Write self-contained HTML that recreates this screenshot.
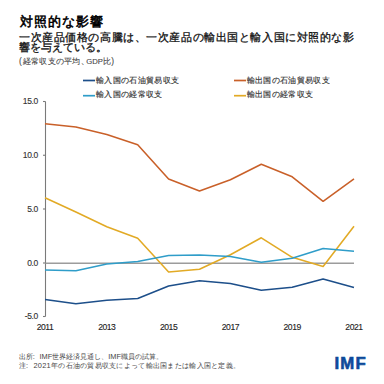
<!DOCTYPE html>
<html><head><meta charset="utf-8"><style>
*{margin:0;padding:0;box-sizing:border-box}
html,body{width:384px;height:384px;background:#fff;overflow:hidden}
body{position:relative;font-family:"Liberation Sans", sans-serif;color:#000}
.a{position:absolute;white-space:nowrap}
#t{left:19.8px;top:15.2px;font-size:12.5px;font-weight:normal;line-height:15px;letter-spacing:1.1px;-webkit-text-stroke:0.55px #000}
.s{left:19px;font-size:11px;line-height:12px;letter-spacing:0.57px;color:#111;-webkit-text-stroke:0.3px #111}
#n{left:19px;top:56px;font-size:8.4px;line-height:10px;color:#444;letter-spacing:0.3px;-webkit-text-stroke:0.1px #444}
.lg{font-size:7.5px;line-height:9px;color:#333;letter-spacing:0.35px;-webkit-text-stroke:0.15px #333}
.yl{font-size:8.5px;line-height:10px;color:#333;letter-spacing:-0.35px;-webkit-text-stroke:0.12px #333;text-align:right;width:30px}
.xl{font-size:8.6px;line-height:10px;color:#222;letter-spacing:-0.45px;-webkit-text-stroke:0.12px #222;width:30px;text-align:center}
.ft{font-size:7.4px;line-height:9px;color:#444;word-spacing:2.75px}
#imf{left:334.5px;top:354px;font-size:16.8px;line-height:19px;font-weight:bold;color:#0d4a9a;letter-spacing:1.2px;-webkit-text-stroke:0.6px #0d4a9a}
</style></head><body>
<div class="a" id="t">対照的な影響</div>
<div class="a s" style="top:31px">一次産品価格の高騰は、一次産品の輸出国と輸入国に対照的な影</div>
<div class="a s" style="top:41px;letter-spacing:0">響を与えている。</div>
<div class="a" id="n">(<span style="margin-left:0.6px">経常収支の平均</span><span style="letter-spacing:-2.6px">、</span><span style="font-size:7.7px;letter-spacing:0">GDP</span>比)</div>
<div class="a lg" style="left:96px;top:75.7px">輸入国の石油貿易収支</div>
<div class="a lg" style="left:96px;top:90.3px">輸入国の経常収支</div>
<div class="a lg" style="left:246.5px;top:75.7px">輸出国の石油貿易収支</div>
<div class="a lg" style="left:246.5px;top:90.3px">輸出国の経常収支</div>
<div class="a yl" style="left:8px;top:96.4px">15.0</div>
<div class="a yl" style="left:8px;top:150.4px">10.0</div>
<div class="a yl" style="left:8px;top:204.4px">5.0</div>
<div class="a yl" style="left:8px;top:257.9px">0.0</div>
<div class="a yl" style="left:8px;top:311.4px">-5.0</div>
<div class="a xl" style="left:30.0px;top:322px">2011</div>
<div class="a xl" style="left:91.8px;top:322px">2013</div>
<div class="a xl" style="left:153.6px;top:322px">2015</div>
<div class="a xl" style="left:215.4px;top:322px">2017</div>
<div class="a xl" style="left:277.2px;top:322px">2019</div>
<div class="a xl" style="left:339.0px;top:322px">2021</div>
<svg class="a" style="left:0;top:0" width="384" height="384">
<line x1="83" y1="80.5" x2="95" y2="80.5" stroke="#1d4f8a" stroke-width="1.7"/>
<line x1="83" y1="95.7" x2="95" y2="95.7" stroke="#2f9dc9" stroke-width="1.7"/>
<line x1="234" y1="80.5" x2="246" y2="80.5" stroke="#c96029" stroke-width="1.7"/>
<line x1="234" y1="95.7" x2="246" y2="95.7" stroke="#e2aa25" stroke-width="1.7"/>
<line x1="45.5" y1="101.5" x2="45.5" y2="316.5" stroke="#7a7a7a" stroke-width="1.1"/>
<line x1="43" y1="101.5" x2="45.5" y2="101.5" stroke="#7a7a7a" stroke-width="1.1"/>
<line x1="43" y1="155.25" x2="45.5" y2="155.25" stroke="#7a7a7a" stroke-width="1.1"/>
<line x1="43" y1="209" x2="45.5" y2="209" stroke="#7a7a7a" stroke-width="1.1"/>
<line x1="43" y1="263" x2="45.5" y2="263" stroke="#7a7a7a" stroke-width="1.1"/>
<line x1="43" y1="316.5" x2="45.5" y2="316.5" stroke="#7a7a7a" stroke-width="1.1"/>
<line x1="45.5" y1="263.2" x2="354" y2="263.2" stroke="#9c9c9c" stroke-width="1.5"/>
<polyline points="45.0,123.80 75.9,127.05 106.8,134.55 137.7,144.80 168.6,179.05 199.5,191.05 230.4,179.80 261.3,164.30 292.2,176.80 323.1,201.30 354.0,178.80" fill="none" stroke="#c96029" stroke-width="1.55" stroke-linejoin="round"/>
<polyline points="45.0,197.80 75.9,212.05 106.8,226.80 137.7,238.30 168.6,272.05 199.5,269.30 230.4,254.80 261.3,237.80 292.2,257.30 323.1,266.55 354.0,226.30" fill="none" stroke="#e2aa25" stroke-width="1.55" stroke-linejoin="round"/>
<polyline points="45.0,270.05 75.9,270.80 106.8,264.05 137.7,261.55 168.6,255.55 199.5,255.05 230.4,256.55 261.3,262.30 292.2,258.30 323.1,248.60 354.0,251.30" fill="none" stroke="#2f9dc9" stroke-width="1.55" stroke-linejoin="round"/>
<polyline points="45.0,299.55 75.9,303.80 106.8,300.30 137.7,298.55 168.6,286.05 199.5,280.80 230.4,283.55 261.3,290.30 292.2,287.30 323.1,279.05 354.0,287.40" fill="none" stroke="#1d4f8a" stroke-width="1.55" stroke-linejoin="round"/>
</svg>
<div class="a ft" style="left:18.7px;top:352px">出所: IMF世界経済見通し、IMF職員の試算。</div>
<div class="a ft" style="left:18.7px;top:361px;letter-spacing:0.28px">注: 2021年の石油の貿易収支によって輸出国または輸入国と定義。</div>
<div class="a" id="imf">IMF</div>
</body></html>
